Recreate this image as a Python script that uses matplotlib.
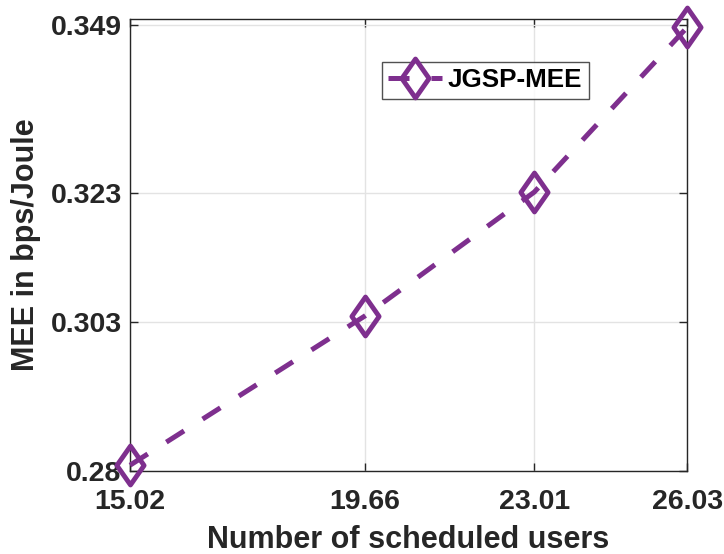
import matplotlib
matplotlib.use("Agg")
import matplotlib.pyplot as plt
from matplotlib.path import Path

# values
users = [15.02, 19.66, 23.01, 26.03]
mee = [0.2809, 0.3040, 0.3232, 0.3487]
xticks = [15.02, 19.66, 23.01, 26.03]
yticks = [0.28, 0.303, 0.323, 0.349]
ytick_labels = ["0.28", "0.303", "0.323", "0.349"]

PURPLE = "#7E2F8E"
DARK = "#262626"

plt.rcParams["font.family"] = ["Liberation Sans", "DejaVu Sans"]
plt.rcParams["font.weight"] = "bold"

# MATLAB-like diamond: a bit taller than wide
diamond = Path([(0, 1), (0.7, 0), (0, -1), (-0.7, 0), (0, 1)],
               [Path.MOVETO, Path.LINETO, Path.LINETO, Path.LINETO, Path.CLOSEPOLY])

fig = plt.figure(figsize=(7.24, 5.54), dpi=100)
ax = fig.add_axes([0.1796, 0.1498, 0.7694, 0.8159])

ax.plot(users, mee, color=PURPLE, lw=3.6, linestyle=(0, (4.2, 4.4)),
        marker=diamond, markersize=28, markerfacecolor="none",
        markeredgecolor=PURPLE, markeredgewidth=3.5, label="JGSP-MEE",
        clip_on=False, zorder=3)

ax.set_xlim(15.02, 26.03)
ax.set_ylim(0.28, 0.35)
ax.set_xticks(xticks, [f"{v:.2f}" for v in xticks])
ax.set_yticks(yticks, ytick_labels)
ax.grid(True, color="#e3e3e3", lw=1.0)
ax.set_axisbelow(True)

ax.tick_params(direction="in", length=6, width=1, colors=DARK,
               labelsize=20.5, top=True, right=True)
ax.tick_params(axis="x", pad=13)
ax.tick_params(axis="y", pad=6)
for lab in ax.get_xticklabels() + ax.get_yticklabels():
    lab.set_fontweight("bold")
for sp in ax.spines.values():
    sp.set_color(DARK)
    sp.set_linewidth(1.0)

ax.set_xlabel("Number of scheduled users", fontsize=22, fontweight="bold",
              color=DARK, labelpad=7)
ax.set_ylabel("MEE in bps/Joule", fontsize=22, fontweight="bold",
              color=DARK, labelpad=7)

leg = ax.legend(loc="upper left", bbox_to_anchor=(0.452, 0.905), borderaxespad=0,
                frameon=True, fancybox=False, handlelength=2.05,
                prop={"weight": "bold", "size": 18.7}, borderpad=0.25,
                handletextpad=0.25)
leg.get_frame().set_edgecolor(DARK)
leg.get_frame().set_linewidth(1.0)
for t in leg.get_texts():
    t.set_color("black")

fig.savefig("out.png", dpi=100)
